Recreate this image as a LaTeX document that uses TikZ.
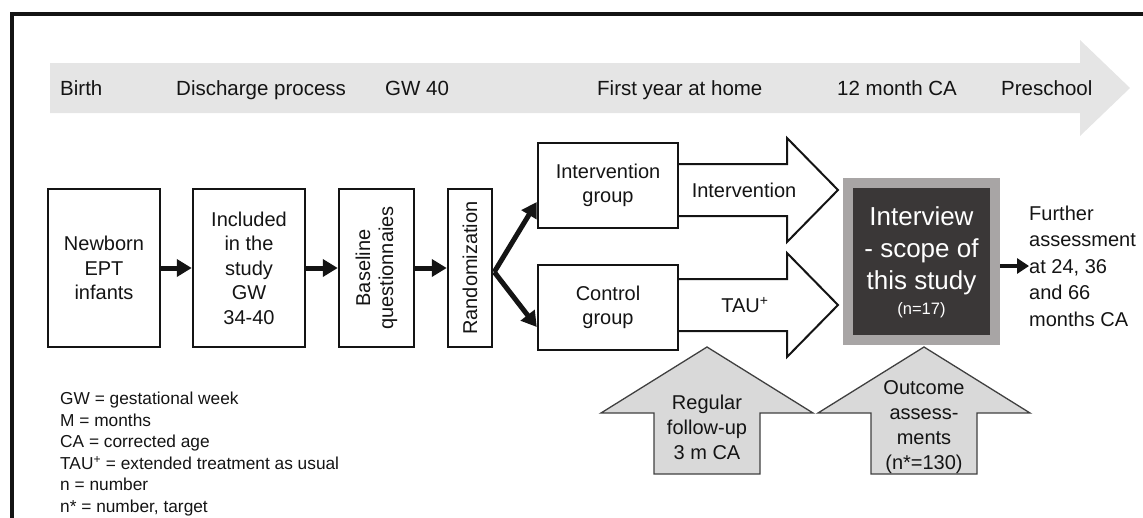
\documentclass[tikz,border=0pt]{standalone}
\usepackage{fontspec}
\setmainfont{Liberation Sans}
\usetikzlibrary{arrows.meta,calc}
\definecolor{tl}{RGB}{229,229,229}
\definecolor{upfill}{RGB}{217,217,217}
\definecolor{updraw}{RGB}{64,64,64}
\definecolor{ivout}{RGB}{168,165,165}
\definecolor{ivin}{RGB}{58,55,55}
\definecolor{ink}{RGB}{20,20,20}
\begin{document}
\begin{tikzpicture}[x=1pt,y=-1pt,
  box/.style={draw=ink,line width=2.5pt,inner sep=0pt},
  lbl/.style={inner sep=0pt,align=center,text=ink,font=\fontsize{20}{24.5}\selectfont},
  fat/.style={draw=ink,line width=5pt,-{Triangle[length=15pt,width=17pt]}},
  outarrow/.style={draw=ink,line width=2pt,fill=white,line join=miter},
  uparrow/.style={draw=updraw,line width=1.3pt,fill=upfill,line join=miter},
  tltext/.style={anchor=base west,inner sep=0pt,text=ink,font=\fontsize{20.5}{24}\selectfont}]
\useasboundingbox (0,0) rectangle (1143,517);
% frame
\draw[line width=4pt,ink] (12,540) -- (12,14) -- (1170,14);
% timeline
\fill[tl] (50,63) -- (1080,63) -- (1080,40) -- (1130,88) -- (1080,136) -- (1080,113) -- (50,113) -- cycle;
\node[tltext] (t1) at (60,95) {Birth};
\node[tltext] (t2) at (176,95) {Discharge process};
\node[tltext] (t3) at (385,95) {GW 40};
\node[tltext] (t4) at (597,95) {First year at home};
\node[tltext] (t5) at (837,95) {12 month CA};
\node[tltext] (t6) at (1001,95) {Preschool};
% boxes
\node[box,minimum width=112pt,minimum height=158pt] (nb) at (104,268) {};
\node[lbl] at (nb.center) {Newborn\\EPT\\infants};
\node[box,minimum width=112pt,minimum height=158pt] (inc) at (249,268) {};
\node[lbl] at (inc.center) {Included\\in the\\study\\GW\\34-40};
\node[box,minimum width=75pt,minimum height=158pt] (bq) at (376.5,268) {};
\node[lbl,rotate=90,font=\fontsize{20}{23}\selectfont] at (bq.center) {Baseline\\questionnaies};
\node[box,minimum width=44pt,minimum height=158pt] (rnd) at (470,268) {};
\node[lbl,rotate=90] at (rnd.center) {Randomization};
% block arrows (drawn before group boxes)
\draw[outarrow] (678,164) -- (787,164) -- (787,138) -- (838,190) -- (787,242) -- (787,216) -- (678,216);
\draw[outarrow] (678,279) -- (787,279) -- (787,253) -- (838,305) -- (787,357) -- (787,331) -- (678,331);
\node[box,minimum width=140pt,minimum height=85pt] (ig) at (608,185.5) {};
\node[lbl] at (ig.center) {Intervention\\group};
\node[box,minimum width=140pt,minimum height=85pt] (cg) at (608,307.5) {};
\node[lbl] at (cg.center) {Control\\group};
\node[lbl] (ilab) at (744,190) {Intervention};
\node[lbl] (tlab) at (745,305) {TAU\textsuperscript{+}};
% connectors
\draw[fat] (nb.east) -- (inc.west);
\draw[fat] (inc.east) -- (bq.west);
\draw[fat] (bq.east) -- (rnd.west);
\coordinate (split) at ($(rnd.east)+(1,4)$);
\draw[fat] (split) -- ($(ig.west)+(0,16.5)$);
\draw[fat] (split) -- ($(cg.west)+(0,19.5)$);
% interview
\node[fill=ivout,minimum width=157pt,minimum height=167pt,inner sep=0pt] (ivo) at (921.5,261.5) {};
\node[fill=ivin,minimum width=137pt,minimum height=147pt,inner sep=0pt] (ivi) at (921.5,261.5) {};
\node[inner sep=0pt,align=center,text=white,font=\fontsize{26}{32}\selectfont] (ivt) at (921.5,251) {Interview\\- scope of\\this study};
\node[inner sep=0pt,text=white,font=\fontsize{16.5}{16}\selectfont] (n17) at (921.5,310) {(n=17)};
% further
\node[lbl,align=left,anchor=west,font=\fontsize{20}{26.5}\selectfont] (fur) at (1029,266) {Further\\assessment\\at 24, 36\\and 66\\months CA};
\draw[fat,line width=4.5pt,-{Triangle[length=12pt,width=15pt]}] (ivo.east |- fur.west) -- (fur.west);
% up arrows
\draw[uparrow] (707,347) -- (813,413) -- (760,413) -- (760,474) -- (654,474) -- (654,413) -- (601,413) -- cycle;
\draw[uparrow] (924,347) -- (1030,413) -- (977,413) -- (977,474) -- (871,474) -- (871,413) -- (818,413) -- cycle;
\node[lbl,font=\fontsize{20}{25}\selectfont] (reg) at (707,427) {Regular\\follow-up\\3 m CA};
\node[lbl,font=\fontsize{20}{25}\selectfont] (outc) at (924,427.5) {Outcome\\assess-\\ments\\(n*=130)};
% legend
\node[inner sep=0pt,align=left,anchor=west,text=ink,font=\fontsize{17.3}{21.6}\selectfont] (leg) at (60,454) {GW = gestational week\\M = months\\CA = corrected age\\TAU\textsuperscript{+} = extended treatment as usual\\n = number\\n* = number, target};
\end{tikzpicture}
\end{document}
